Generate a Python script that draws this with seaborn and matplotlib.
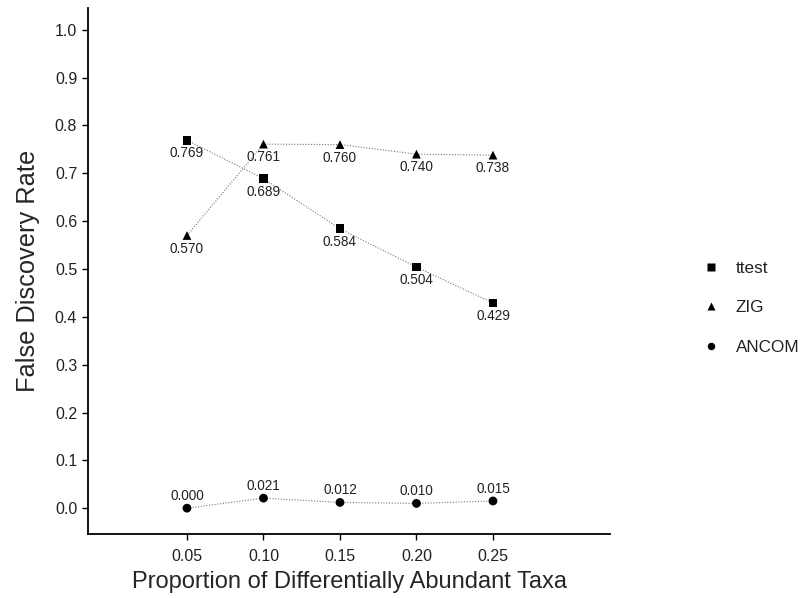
import pandas as pd
import numpy as np
import seaborn as sns
import matplotlib.pyplot as plt

# data
proportion = [0.05, 0.10, 0.15, 0.20, 0.25]
ttest = [0.769, 0.689, 0.584, 0.504, 0.429]
zig = [0.570, 0.761, 0.760, 0.740, 0.738]
ancom = [0.000, 0.021, 0.012, 0.010, 0.015]
methods = ['ttest', 'ZIG', 'ANCOM']
x_ticks = [0.05, 0.10, 0.15, 0.20, 0.25]
y_ticks = [0.0, 0.1, 0.2, 0.3, 0.4, 0.5, 0.6, 0.7, 0.8, 0.9, 1.0]

df = pd.DataFrame({
    'Proportion': proportion * 3,
    'FDR': ttest + zig + ancom,
    'Method': [m for m in methods for _ in proportion],
})

sns.set_style('white')
plt.rcParams['font.family'] = ['Liberation Sans', 'DejaVu Sans']

fig = plt.figure(figsize=(8, 5.98), dpi=100)
ax = fig.add_axes([0.11, 0.107, 0.6525, 0.88])

# dotted connecting lines
sns.lineplot(data=df, x='Proportion', y='FDR', units='Method', estimator=None,
             color='#777777', linestyle=(0, (1, 1.5)), linewidth=0.8, ax=ax, legend=False)
# markers
sns.scatterplot(data=df, x='Proportion', y='FDR', style='Method',
                markers={'ttest': 's', 'ZIG': '^', 'ANCOM': 'o'},
                color='black', s=40, edgecolor='none', ax=ax, zorder=3)

# value labels: below for ttest / ZIG, above for ANCOM
for _, r in df.iterrows():
    dy = 9 if r['Method'] == 'ANCOM' else -9.5
    ax.annotate(f"{r['FDR']:.3f}", (r['Proportion'], r['FDR']),
                xytext=(0, dy), textcoords='offset points',
                ha='center', va='center', fontsize=9.8, color='#222222')

ax.set_xlim(-0.0147, 0.3265)
ax.set_ylim(-0.054, 1.046)
ax.set_xticks(x_ticks)
ax.set_xticklabels([f'{v:.2f}' for v in x_ticks], fontsize=11.5, color='#222222')
ax.set_yticks(y_ticks)
ax.set_yticklabels([f'{v:.1f}' for v in y_ticks], fontsize=11.5, color='#222222')
ax.tick_params(axis='y', direction='out', length=4.3, width=1, color='black', left=True, pad=3.5)
ax.tick_params(axis='x', direction='out', length=4.3, width=1, color='black', bottom=True, pad=6.5)
ax.set_xlabel('Proportion of Differentially Abundant Taxa', fontsize=17, labelpad=5)
ax.set_ylabel('False Discovery Rate', fontsize=18.3, labelpad=11)

sns.despine(ax=ax)
for s in ['left', 'bottom']:
    ax.spines[s].set_color('black')
    ax.spines[s].set_linewidth(1.3)

handles, labels = ax.get_legend_handles_labels()
if ax.legend_:
    ax.legend_.remove()
leg = fig.legend(handles, labels, loc='center left', bbox_to_anchor=(0.878, 0.485),
                 bbox_transform=fig.transFigure, frameon=False, fontsize=12.3,
                 labelspacing=1.45, handletextpad=0.95, handlelength=1.0,
                 borderpad=0, borderaxespad=0, markerscale=0.85)
for t in leg.get_texts():
    t.set_color('#222222')

fig.savefig('out.png', dpi=100)
